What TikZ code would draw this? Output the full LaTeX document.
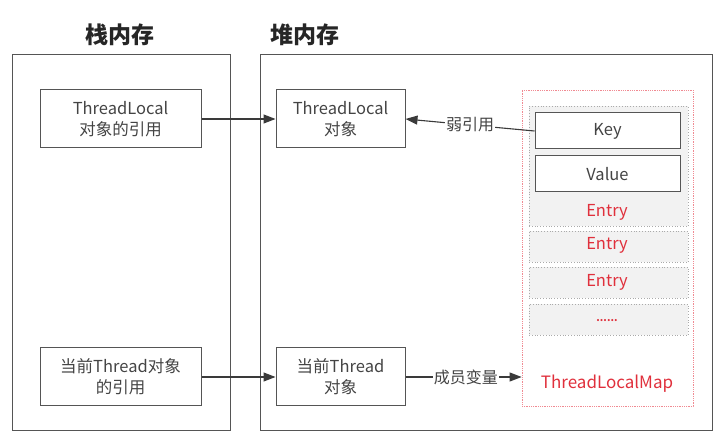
\documentclass[tikz,border=0pt]{standalone}
\usepackage{fontspec}
\setmainfont{Noto Sans CJK SC}
\usetikzlibrary{arrows.meta}
\definecolor{ln}{HTML}{555555}
\definecolor{al}{HTML}{3A3A3A}
\definecolor{tx}{HTML}{444444}
\definecolor{rd}{HTML}{E0303C}
\definecolor{gf}{HTML}{F2F2F2}
\definecolor{gb}{HTML}{AAAAAA}
\definecolor{rdb}{HTML}{F08A92}
\tikzset{
  panel/.style={draw=ln, line width=1pt},
  title/.style={font=\fontsize{23}{26}\selectfont\bfseries, text=black!85},
  box/.style={draw=ln, line width=1pt, text=tx, align=center, inner sep=0,
    font=\fontsize{16.5}{21}\selectfont},
  entrybox/.style={draw=gb, fill=gf, dotted, line width=0.8pt, inner sep=0},
  redtxt/.style={text=rd, font=\fontsize{16.5}{19}\selectfont},
  maplabel/.style={text=rd, font=\fontsize{17}{19}\selectfont},
  arr/.style={draw=al, line width=1.1pt, -{Triangle[length=12pt,width=9pt]}},
  lbl/.style={fill=white, text=tx, inner sep=1pt, font=\fontsize{16}{18}\selectfont},
}
\begin{document}
\begin{tikzpicture}[x=1pt,y=-1pt]
\useasboundingbox (0,0) rectangle (726,443);
% panels
\node[panel, minimum width=218, minimum height=376, inner sep=0] (stack) at (121,243) {};
\node[panel, minimum width=452, minimum height=376, inner sep=0] (heap) at (486,243) {};
\node[title] (stitle) at (120,35) {栈内存};
\node[title] (htitle) at (305,35) {堆内存};
% ThreadLocalMap
\node[draw=rdb, densely dotted, line width=0.8pt, minimum width=171, minimum height=316, inner sep=0] (map) at (607.5,248) {};
\node[maplabel] (maptxt) at (607,384) {ThreadLocalMap};
% entries
\node[entrybox, minimum width=159, minimum height=120] (e1) at (608.5,166) {};
\node[entrybox, minimum width=159, minimum height=31] (e2) at (608.5,246.5) {};
\node[entrybox, minimum width=159, minimum height=31] (e3) at (608.5,282.5) {};
\node[entrybox, minimum width=159, minimum height=31] (e4) at (608.5,319.5) {};
\node[box, fill=white, minimum width=145, minimum height=36] (key) at (607.5,131) {Key};
\node[box, fill=white, minimum width=145, minimum height=36] (val) at (607.5,174) {Value};
\node[redtxt] (e1t) at (607,212) {Entry};
\node[redtxt] (e2t) at (607,245) {Entry};
\node[redtxt] (e3t) at (607,282) {Entry};
\node[text=rd, font=\fontsize{10}{10}\selectfont\bfseries] (e4t) at (607,321) {......};
% stack nodes
\node[box, minimum width=161, minimum height=58] (tlr) at (120.5,119) {ThreadLocal\\对象的引用};
\node[box, minimum width=161, minimum height=58] (thr) at (120.5,377) {当前Thread对象\\的引用};
% heap nodes
\node[box, minimum width=129, minimum height=58] (tlo) at (340.5,119) {ThreadLocal\\对象};
\node[box, minimum width=129, minimum height=58] (tho) at (340.5,377) {当前Thread\\对象};
% connectors
\draw[arr] (tlr) -- (tlo);
\draw[arr] (thr) -- (tho);
\draw[arr] (key.west) -- node[lbl, pos=0.5] {弱引用} (tlo.east);
\draw[arr] (tho.east) -- node[lbl, pos=0.52] {成员变量} (tho.east -| map.west);
\end{tikzpicture}
\end{document}
